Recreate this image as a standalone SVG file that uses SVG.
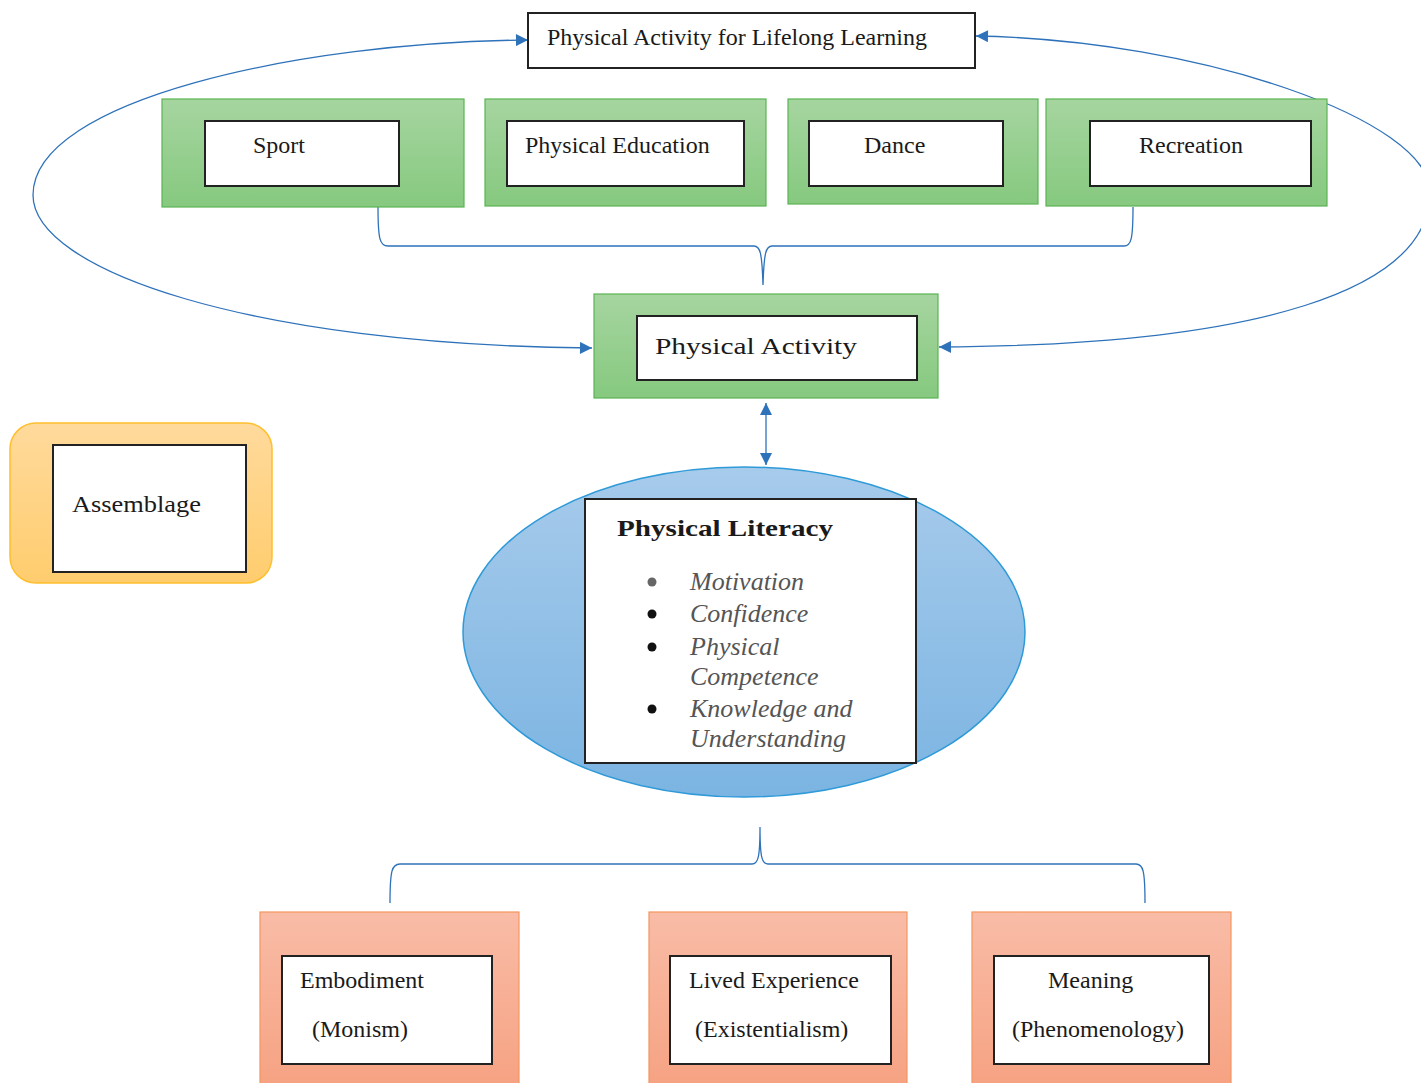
<svg xmlns="http://www.w3.org/2000/svg" width="1421" height="1083" viewBox="0 0 1421 1083">
<defs>
<linearGradient id="gGreen" x1="0" y1="0" x2="0" y2="1"><stop offset="0" stop-color="#a6d5a0"/><stop offset="1" stop-color="#86c97f"/></linearGradient>
<linearGradient id="gOrange" x1="0" y1="0" x2="0" y2="1"><stop offset="0" stop-color="#f9bca7"/><stop offset="1" stop-color="#f6a282"/></linearGradient>
<linearGradient id="gYellow" x1="0" y1="0" x2="0" y2="1"><stop offset="0" stop-color="#ffda9c"/><stop offset="1" stop-color="#ffcd6e"/></linearGradient>
<linearGradient id="gBlue" x1="0" y1="0" x2="0" y2="1"><stop offset="0" stop-color="#a7cbeb"/><stop offset="1" stop-color="#7bb4e2"/></linearGradient>
<marker id="arr" viewBox="0 0 10 10" refX="10" refY="5" markerWidth="13" markerHeight="12" markerUnits="userSpaceOnUse" orient="auto-start-reverse"><path d="M0,0 L10,5 L0,10 z" fill="#2e72ba"/></marker>
<style>
.green{fill:url(#gGreen);stroke:#5ab552;stroke-width:1.2}
.orange{fill:url(#gOrange);stroke:#f4965f;stroke-width:1.2}
.inner{fill:#fff;stroke:#222;stroke-width:2}
.t{font-family:"Liberation Serif","Times New Roman",serif;font-size:24px;fill:#1a1a1a}
.it{font-family:"Liberation Serif","Times New Roman",serif;font-size:26px;font-style:italic;fill:#555}
.conn{fill:none;stroke:#2e72ba;stroke-width:1.3}
</style>
</defs>

<g id="connectors">
<path class="conn" d="M 592 348 C 250 345, 33 270, 33 195 C 33 100, 300 42, 528 40" marker-start="url(#arr)" marker-end="url(#arr)"/>
<path class="conn" d="M 976 36 C 1200 40, 1430 120, 1430 192 C 1430 290, 1260 345, 939 347" marker-start="url(#arr)" marker-end="url(#arr)"/>
<path class="conn" d="M 378 207 C 378 240 380 246 388 246 L 754 246 C 760 246 762 252 763 285 C 764 252 766 246 772 246 L 1124 246 C 1131 246 1133 240 1133 207"/>
<path class="conn" d="M 766 403 L 766 465" stroke-width="2" marker-start="url(#arr)" marker-end="url(#arr)"/>
<path class="conn" d="M 390 903 C 390 870 392 864 400 864 L 752 864 C 758 864 760 858 760 827 C 760 858 762 864 768 864 L 1136 864 C 1143 864 1145 870 1145 903"/>
</g>

<g id="lifelong">
<rect x="528" y="13" width="447" height="55" fill="#fff" stroke="#222" stroke-width="2"/>
<text class="t" x="547" y="45">Physical Activity for Lifelong Learning</text>
</g>

<g id="sport">
<rect class="green" x="162" y="99" width="302" height="108"/>
<rect class="inner" x="205" y="121" width="194" height="65"/>
<text class="t" x="253" y="153">Sport</text>
</g>
<g id="pe">
<rect class="green" x="485" y="99" width="281" height="107"/>
<rect class="inner" x="507" y="121" width="237" height="65"/>
<text class="t" x="525" y="153">Physical Education</text>
</g>
<g id="dance">
<rect class="green" x="788" y="99" width="250" height="105"/>
<rect class="inner" x="809" y="121" width="194" height="65"/>
<text class="t" x="864" y="153">Dance</text>
</g>
<g id="recreation">
<rect class="green" x="1046" y="99" width="281" height="107"/>
<rect class="inner" x="1090" y="121" width="221" height="65"/>
<text class="t" x="1139" y="153">Recreation</text>
</g>

<g id="physical-activity">
<rect class="green" x="594" y="294" width="344" height="104"/>
<rect class="inner" x="637" y="316" width="280" height="64"/>
<text class="t" x="655" y="354" font-size="30" textLength="202" lengthAdjust="spacingAndGlyphs">Physical Activity</text>
</g>

<g id="assemblage">
<rect x="10" y="423" width="262" height="160" rx="26" fill="url(#gYellow)" stroke="#ffbf2e" stroke-width="1.5"/>
<rect class="inner" x="53" y="445" width="193" height="127"/>
<text class="t" x="72" y="512" font-size="26" textLength="129" lengthAdjust="spacingAndGlyphs">Assemblage</text>
</g>

<g id="physical-literacy">
<ellipse cx="744" cy="632" rx="281" ry="165" fill="url(#gBlue)" stroke="#2f9ad8" stroke-width="1.5"/>
<rect class="inner" x="585" y="499" width="331" height="264"/>
<text class="t" x="617" y="536" font-size="29" font-weight="bold" textLength="216" lengthAdjust="spacingAndGlyphs">Physical Literacy</text>
<circle cx="652" cy="582" r="4.5" fill="#666"/>
<circle cx="652" cy="614" r="4.5" fill="#111"/>
<circle cx="652" cy="647" r="4.5" fill="#111"/>
<circle cx="652" cy="709" r="4.5" fill="#111"/>
<text class="it" x="690" y="590">Motivation</text>
<text class="it" x="690" y="622">Confidence</text>
<text class="it" x="690" y="655">Physical</text>
<text class="it" x="690" y="685">Competence</text>
<text class="it" x="690" y="717">Knowledge and</text>
<text class="it" x="690" y="747">Understanding</text>
</g>

<g id="embodiment">
<rect class="orange" x="260" y="912" width="259" height="175"/>
<rect class="inner" x="282" y="956" width="210" height="108"/>
<text class="t" x="300" y="988">Embodiment</text>
<text class="t" x="312" y="1037">(Monism)</text>
</g>
<g id="lived-experience">
<rect class="orange" x="649" y="912" width="258" height="175"/>
<rect class="inner" x="670" y="956" width="221" height="108"/>
<text class="t" x="689" y="988">Lived Experience</text>
<text class="t" x="695" y="1037">(Existentialism)</text>
</g>
<g id="meaning">
<rect class="orange" x="972" y="912" width="259" height="175"/>
<rect class="inner" x="994" y="956" width="215" height="108"/>
<text class="t" x="1048" y="988">Meaning</text>
<text class="t" x="1012" y="1037">(Phenomenology)</text>
</g>
</svg>
